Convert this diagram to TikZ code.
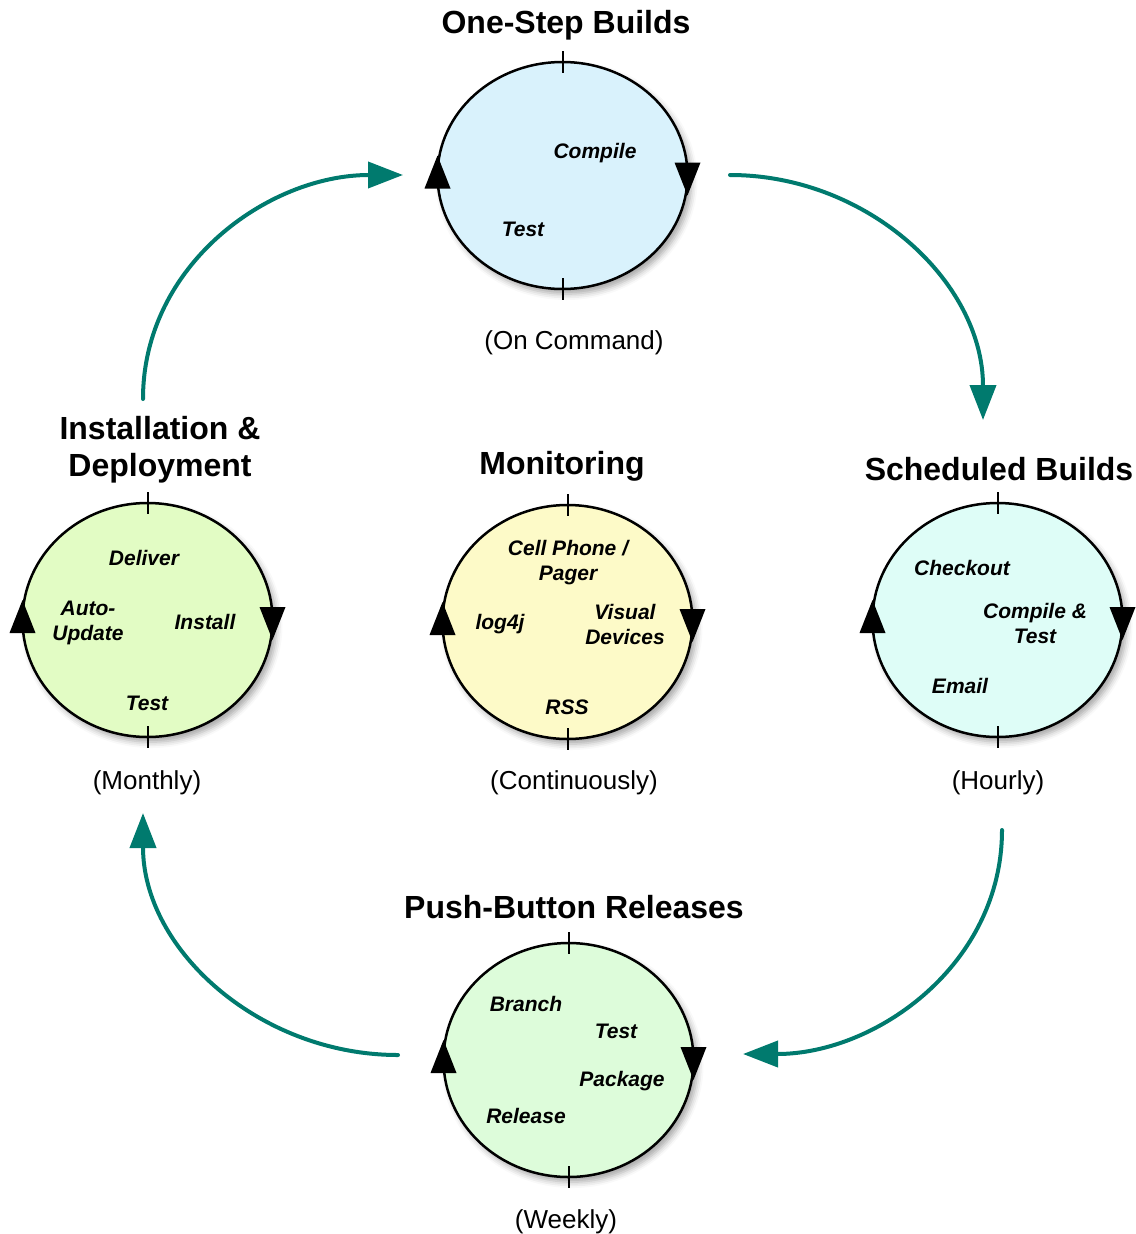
\documentclass[tikz,border=0pt]{standalone}
\usepackage{fontspec}
\setmainfont{Liberation Sans}
\usetikzlibrary{arrows.meta,shapes.geometric,shadows.blur}
\definecolor{cycleteal}{RGB}{0,122,110}
\definecolor{onestepblue}{RGB}{217,242,252}
\definecolor{installgreen}{RGB}{226,252,196}
\definecolor{monitoryellow}{RGB}{253,250,200}
\definecolor{schedcyan}{RGB}{222,253,247}
\definecolor{pushgreen}{RGB}{221,252,218}
\tikzset{
  stage/.style={ellipse,draw,line width=2.5pt,minimum width=250pt,minimum height=234pt,
    inner sep=0pt,outer sep=0pt,
    blur shadow={shadow xshift=4pt,shadow yshift=-5pt,shadow blur radius=6pt,shadow opacity=35}},
  heading/.style={font=\bfseries\fontsize{32}{37}\selectfont,align=center,yshift=-2pt},
  task/.style={font=\bfseries\itshape\fontsize{21}{25}\selectfont,align=center,yshift=-1.5pt},
  period/.style={font=\fontsize{26}{31}\selectfont,yshift=-2.5pt},
  flow/.style={draw=cycleteal,line width=4pt,line cap=round,-{Triangle[length=35pt,width=26pt]}},
  tick/.pic={\draw[line width=2pt] (0,-11) -- (0,11);},
  uptip/.pic={\fill (-13,13) -- (13,13) -- (0,-20) -- cycle;},
  downtip/.pic={\fill (-13,-13) -- (13,-13) -- (0,20) -- cycle;}
}
\begin{document}
\begin{tikzpicture}[x=1pt,y=-1pt]
\useasboundingbox (0,0) rectangle (1135,1234);

% the five stages
\node[stage,fill=onestepblue,minimum height=227pt] (onestep) at (562.5,175.5) {};
\node[stage,fill=installgreen] (install) at (147.5,620) {};
\node[stage,fill=monitoryellow] (monitor) at (567.5,622) {};
\node[stage,fill=schedcyan] (sched) at (997.5,620) {};
\node[stage,fill=pushgreen] (push) at (568.5,1060) {};

\foreach \s in {onestep,install,monitor,sched,push}{
  \pic at (\s.north) {tick};
  \pic at (\s.south) {tick};
  \pic at (\s.west) {uptip};
  \pic at (\s.east) {downtip};
}

% headings
\node[heading] (onesteptitle) at (566,23) {One-Step Builds};
\node[heading] (installtitle) at (160,448) {Installation \&\\Deployment};
\node[heading] (monitortitle) at (562,464) {Monitoring};
\node[heading] (schedtitle) at (999,467) {Scheduled Builds};
\node[heading] (pushtitle) at (574,905) {Push-Button Releases};

% how often
\node[period] (onestepfreq) at (574,340) {(On Command)};
\node[period] (installfreq) at (147,780) {(Monthly)};
\node[period] (monitorfreq) at (574,780) {(Continuously)};
\node[period] (schedfreq) at (998,780) {(Hourly)};
\node[period] (pushfreq) at (566,1219) {(Weekly)};

% tasks
\node[task] (compile) at (595,152) {Compile};
\node[task] (test) at (523,228) {Test};

\node[task] (deliver) at (144,556) {Deliver};
\node[task] (autoupdate) at (88,621) {Auto-\\Update};
\node[task] (installtask) at (205,620) {Install};
\node[task] (installtest) at (147,702) {Test};

\node[task] (cellphone) at (568,561) {Cell Phone /\\Pager};
\node[task] (logj) at (500,623) {log4j};
\node[task] (visual) at (625,623) {Visual\\Devices};
\node[task] (rss) at (567,706) {RSS};

\node[task] (checkout) at (962,566) {Checkout};
\node[task] (compiletest) at (1035,622) {Compile \&\\Test};
\node[task] (email) at (960,684) {Email};

\node[task] (branch) at (526,1002) {Branch};
\node[task] (pushtest) at (616,1030) {Test};
\node[task] (package) at (622,1080) {Package};
\node[task] (release) at (526,1114) {Release};

% the big cycle
\coordinate (f1a) at (143,399);
\coordinate (f1b) at (403,175);
\coordinate (f2a) at (730,175);
\coordinate (f2b) at (983,420);
\coordinate (f3a) at (1002,830);
\coordinate (f3b) at (743,1054);
\coordinate (f4a) at (398,1055);
\coordinate (f4b) at (143,813);
\draw[flow] (f1a) to[out=90,in=180] (f1b);
\draw[flow] (f2a) to[out=0,in=90] (f2b);
\draw[flow] (f3a) to[out=-90,in=0] (f3b);
\draw[flow] (f4a) to[out=180,in=-90] (f4b);
\end{tikzpicture}
\end{document}
